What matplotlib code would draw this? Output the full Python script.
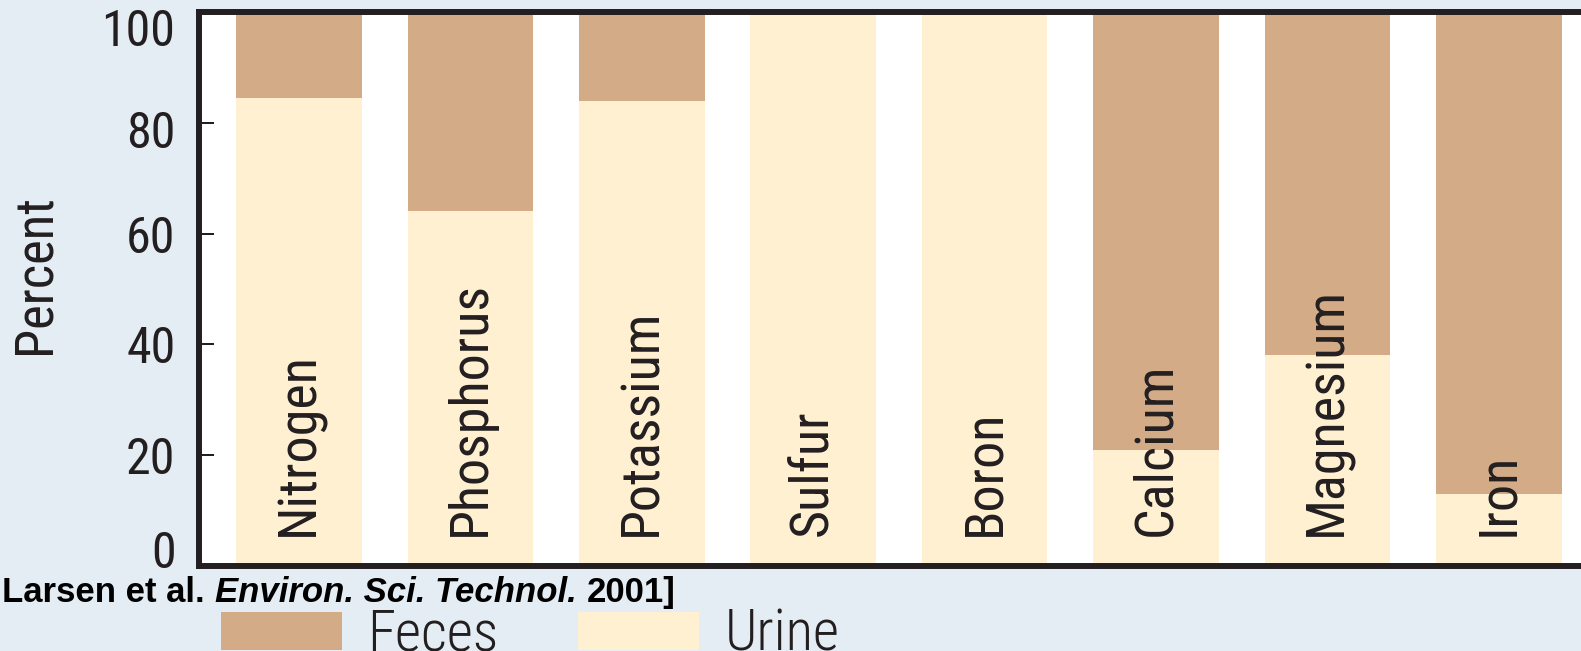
import matplotlib
matplotlib.use("Agg")
import matplotlib.pyplot as plt
import matplotlib.transforms as mtransforms
import numpy as np

# data (percent of daily excretion)
elements = ["Nitrogen", "Phosphorus", "Potassium", "Sulfur", "Boron",
            "Calcium", "Magnesium", "Iron"]
urine = [84.5, 64, 84, 100, 100, 21, 38, 13]
feces = [15.5, 36, 16, 0, 0, 79, 62, 87]
yticks = [0, 20, 40, 60, 80, 100]

bg = "#e4edf3"
c_feces = "#d3ac87"
c_urine = "#fef0d0"
ink = "#231f20"
narrow = ["Roboto Condensed", "Archivo Narrow", "PT Sans Narrow",
          "Liberation Sans", "DejaVu Sans"]
wide = ["Liberation Sans", "DejaVu Sans"]

W, H = 1581, 651
fig = plt.figure(figsize=(W / 100, H / 100), dpi=100, facecolor=bg)

# axes run off the right edge of the picture, like the cropped original
left_px, right_px, top_px, bot_px = 199, 1700, 12, 566
ax = fig.add_axes([left_px / W, 1 - bot_px / H,
                   (right_px - left_px) / W, (bot_px - top_px) / H])
ax.set_facecolor("white")

step = 171.4
x = np.arange(len(elements))
b_u = ax.bar(x, urine, width=0.732, color=c_urine, zorder=1)
b_f = ax.bar(x, feces, bottom=urine, width=0.732, color=c_feces, zorder=1)

ax.set_xlim(-(299 - left_px) / step, (right_px - 299) / step)
ax.set_ylim(0, 100)
ax.set_xticks([])
ax.set_yticks(yticks)
ax.tick_params(axis="y", direction="in", length=10.8, width=1.44,
               pad=17, labelsize=36, color=ink, labelcolor=ink)
# end labels sit a little inside the frame in the original
nudge = {0: 0.17, 80: -0.06, 100: -0.15}
for val, lab in zip(yticks, ax.get_yticklabels()):
    lab.set_family(narrow)
    if val in nudge:
        lab.set_transform(lab.get_transform() + mtransforms.ScaledTranslation(
            0, nudge[val], fig.dpi_scale_trans))
for s in ["left", "top", "bottom"]:
    ax.spines[s].set_linewidth(4.3)
    ax.spines[s].set_color(ink)
ax.spines["right"].set_visible(False)

for i, name in enumerate(elements):
    ax.text(i, 5.5, name, rotation=90, ha="center", va="bottom",
            fontsize=39, color=ink, family=narrow, zorder=3)

fig.text(35 / W, 1 - 274 / H, "Percent", rotation=90, ha="center",
         va="center", fontsize=38, color=ink, family=narrow)

# citation line, bold with an italic journal name
r = fig.canvas.get_renderer()
parts = [("Larsen et al.", "normal"), ("Environ. Sci. Technol.", "italic"),
         ("2001]", "normal")]
xpos = 2
for s, st in parts:
    t = fig.text(xpos / W, 1 - 602 / H, s, fontsize=25, fontweight="bold",
                 style=st, family=wide, va="baseline", color="black")
    bb = t.get_window_extent(r)
    xpos = bb.x1 + 10

fig.legend([b_f, b_u], ["Feces", "Urine"], ncol=2, frameon=False,
           loc="lower left", bbox_to_anchor=(221 / W, 1 - 663 / H),
           bbox_transform=fig.transFigure, borderpad=0, borderaxespad=0,
           prop={"family": narrow, "size": 41, "weight": "light"},
           handlelength=2.12, handleheight=0.667, handletextpad=0.45,
           columnspacing=1.4, labelcolor=ink)

fig.savefig("out.png", dpi=100, facecolor=bg)
